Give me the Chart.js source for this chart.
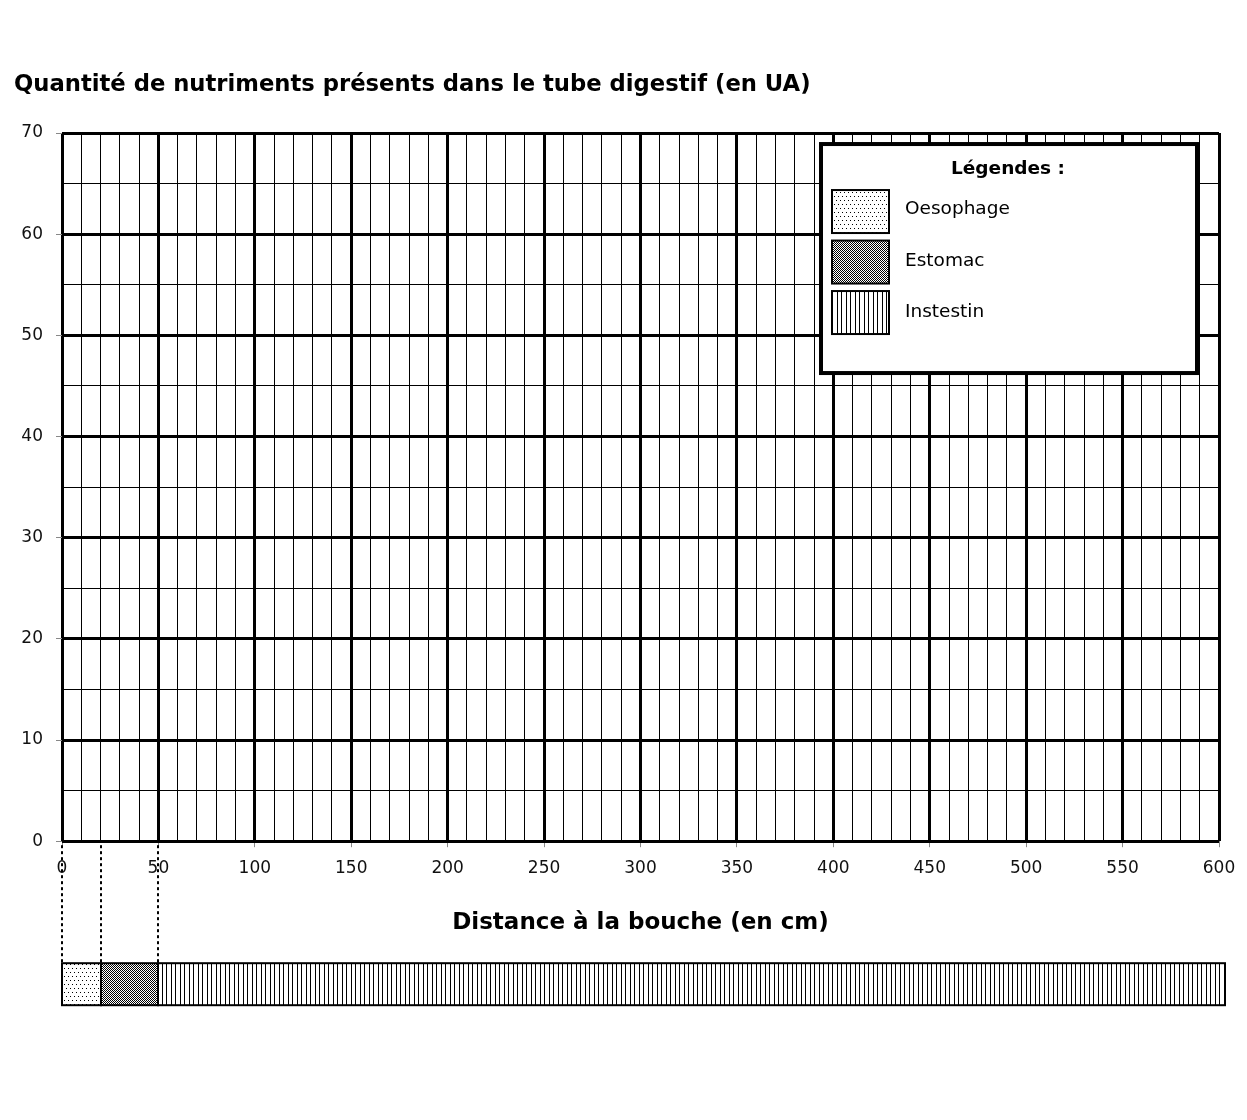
<!DOCTYPE html>
<html lang="fr">
<head>
  <meta charset="UTF-8">
  <title>Quantité de nutriments présents dans le tube digestif</title>
  <style>
    body {
      margin: 0;
      background: #fff;
    }

    #chart-container {
      width: 1247px;
      height: 1120px;
    }
  </style>
</head>
<body>
  <div id="chart-container">
    <canvas id="chart"></canvas>
  </div>

  <script src="https://cdn.jsdelivr.net/npm/chart.js"></script>
  <script>
    // axes
    const xMax = 600;
    const yMax = 70;
    const xMinorStep = 10;
    const yMinorStep = 5;
    const xTickLabels = [0, 50, 100, 150, 200, 250, 300, 350, 400, 450, 500, 550, 600];
    const yTickLabels = [0, 10, 20, 30, 40, 50, 60, 70];

    // segments du tube digestif (en cm)
    const segments = ['Oesophage', 'Estomac', 'Instestin'];
    const segStart = [0, 20, 50];
    const segEnd = [20, 50, 603];
    const segPattern = ['dots', 'checker', 'lines'];

    const FONT = 'DejaVu Sans';

    // motifs de remplissage
    function makePattern(type) {
      const c = document.createElement('canvas');
      const g = c.getContext('2d');
      if (type === 'dots') {
        c.width = 4; c.height = 8;
        g.fillStyle = '#fff'; g.fillRect(0, 0, 4, 8);
        g.fillStyle = '#000';
        g.fillRect(0, 0, 1, 1);
        g.fillRect(2, 4, 1, 1);
      } else if (type === 'checker') {
        c.width = 2; c.height = 2;
        g.fillStyle = '#fff'; g.fillRect(0, 0, 2, 2);
        g.fillStyle = '#000';
        g.fillRect(0, 0, 1, 1);
        g.fillRect(1, 1, 1, 1);
      } else {
        c.width = 9; c.height = 4;
        g.fillStyle = '#fff'; g.fillRect(0, 0, 9, 4);
        g.fillStyle = '#000';
        g.fillRect(0, 0, 1, 4);
        g.fillRect(4, 0, 1, 4);
      }
      return g.createPattern(c, 'repeat');
    }

    const tubePlugin = {
      id: 'tube',
      afterDraw(chart) {
        const ctx = chart.ctx;
        const x = chart.scales.x;
        const area = chart.chartArea;
        const stripTop = area.bottom + 122;
        const stripH = 42;

        ctx.save();

        // pointillés verticaux
        ctx.strokeStyle = '#000';
        ctx.lineWidth = 2;
        ctx.setLineDash([3, 3]);
        segStart.forEach(v => {
          const px = Math.round(x.getPixelForValue(v));
          ctx.beginPath();
          ctx.moveTo(px, area.bottom + 4);
          ctx.lineTo(px, stripTop);
          ctx.stroke();
        });
        ctx.setLineDash([]);

        // bande du tube digestif
        segments.forEach((name, i) => {
          const x0 = Math.round(x.getPixelForValue(segStart[i]));
          const x1 = Math.round(x.getPixelForValue(segEnd[i]));
          ctx.fillStyle = makePattern(segPattern[i]);
          ctx.fillRect(x0, stripTop, x1 - x0, stripH);
          ctx.lineWidth = 2;
          ctx.strokeStyle = '#000';
          ctx.strokeRect(x0, stripTop, x1 - x0, stripH);
        });

        // légende
        const bx = area.right - 398;
        const by = area.top + 11;
        const bw = 376;
        const bh = 229;
        ctx.fillStyle = '#fff';
        ctx.fillRect(bx, by, bw, bh);
        ctx.lineWidth = 4;
        ctx.strokeStyle = '#000';
        ctx.strokeRect(bx, by, bw, bh);

        ctx.fillStyle = '#000';
        ctx.font = 'bold 18.5px "' + FONT + '"';
        ctx.textAlign = 'center';
        ctx.textBaseline = 'middle';
        ctx.fillText('Légendes :', bx + 187, by + 25);

        ctx.font = '18.5px "' + FONT + '"';
        ctx.textAlign = 'left';
        segments.forEach((name, i) => {
          const sy = by + 46 + i * 50.5;
          ctx.fillStyle = makePattern(segPattern[i]);
          ctx.fillRect(bx + 11, sy, 57, 43);
          ctx.lineWidth = 2;
          ctx.strokeRect(bx + 11, sy, 57, 43);
          ctx.fillStyle = '#000';
          ctx.fillText(name, bx + 84, sy + 19.5 + i);
        });

        ctx.restore();
      }
    };

    new Chart(document.getElementById('chart'), {
      type: 'scatter',
      data: {
        datasets: [{ data: [] }]
      },
      options: {
        responsive: true,
        maintainAspectRatio: false,
        animation: false,
        layout: {
          padding: { left: 14, right: 28, top: 0, bottom: 183 }
        },
        plugins: {
          legend: { display: false },
          tooltip: { enabled: false },
          title: {
            display: true,
            text: 'Quantité de nutriments présents dans le tube digestif (en UA)',
            align: 'start',
            color: '#000',
            font: { family: FONT, size: 22.7, weight: 'bold' },
            padding: { top: 71.6, bottom: 34.2 }
          }
        },
        scales: {
          x: {
            type: 'linear',
            min: 0,
            max: xMax,
            ticks: {
              stepSize: xMinorStep,
              autoSkip: false,
              maxRotation: 0,
              padding: 11.4,
              color: '#111',
              font: { family: FONT, size: 17 },
              callback: v => xTickLabels.includes(v) ? v : ''
            },
            grid: {
              color: '#000',
              lineWidth: c => c.tick && xTickLabels.includes(c.tick.value) ? 3 : 1,
              tickColor: c => c.tick && xTickLabels.includes(c.tick.value) ? '#888' : 'rgba(0,0,0,0)',
              tickLength: 6,
              tickWidth: 1
            },
            border: { display: false },
            title: {
              display: true,
              text: 'Distance à la bouche (en cm)',
              color: '#000',
              font: { family: FONT, size: 23, weight: 'bold' },
              padding: { top: 19, bottom: 0 }
            }
          },
          y: {
            min: 0,
            max: yMax,
            afterFit(scale) { scale.width = 48; },
            ticks: {
              stepSize: yMinorStep,
              autoSkip: false,
              padding: 13,
              color: '#111',
              font: { family: FONT, size: 17 },
              callback: v => yTickLabels.includes(v) ? v : ''
            },
            grid: {
              color: '#000',
              lineWidth: c => c.tick && yTickLabels.includes(c.tick.value) ? 3 : 1,
              tickColor: c => c.tick && yTickLabels.includes(c.tick.value) ? '#888' : 'rgba(0,0,0,0)',
              tickLength: 6,
              tickWidth: 1
            },
            border: { display: false }
          }
        }
      },
      plugins: [tubePlugin]
    });
  </script>
</body>
</html>
